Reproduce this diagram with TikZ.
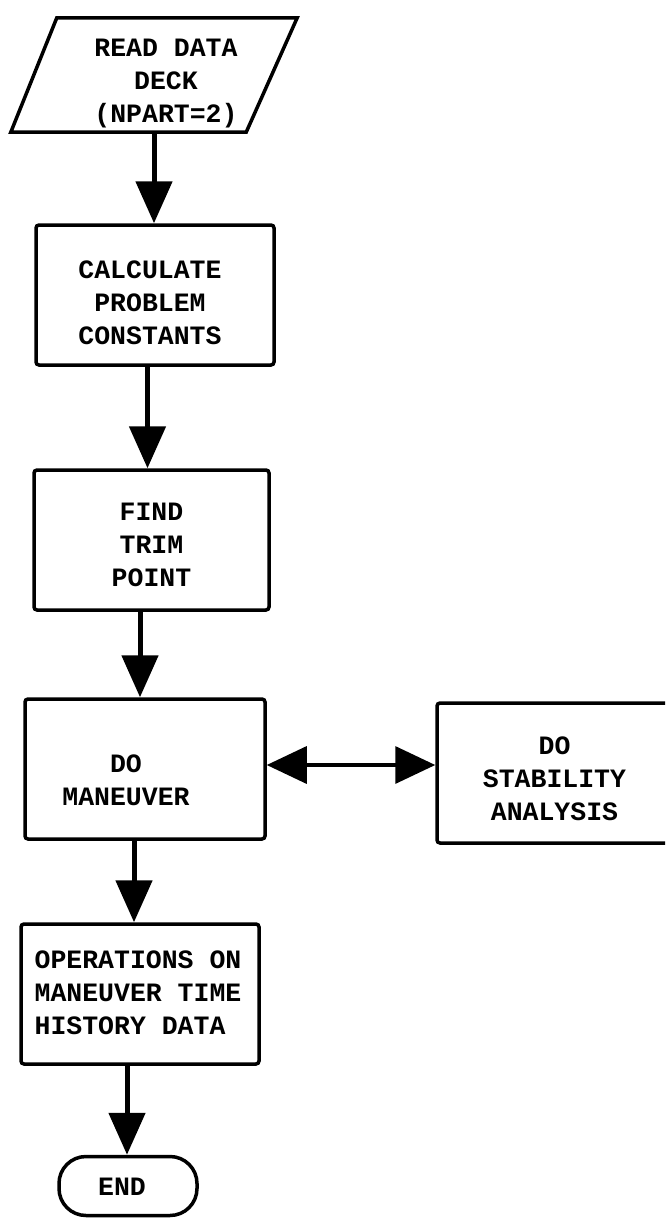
\documentclass[tikz,border=0pt]{standalone}
\usepackage{fontspec}
\newfontfamily\typer{Liberation Mono}
\usetikzlibrary{arrows.meta,calc}
\tikzset{
  box/.style={draw, line width=3.5pt, rounded corners=3pt, minimum width=238pt,
              minimum height=140pt, inner sep=0pt},
  txt/.style={font=\typer\bfseries\fontsize{26.5}{33}\selectfont, align=center, inner sep=0pt},
  flow/.style={line width=5pt, -{Triangle[length=42pt,width=36pt]}},
  link/.style={line width=3.5pt,
               {Triangle[length=40pt,width=37pt]}-{Triangle[length=40pt,width=37pt]}},
}
\begin{document}
\begin{tikzpicture}[x=1pt,y=-1pt]
\fill[white] (0,0) rectangle (665,1218);
\useasboundingbox (0,0) rectangle (665,1218);
\clip (0,0) rectangle (665,1218);

% input: data deck (parallelogram)
\node[minimum width=286pt, minimum height=114pt, inner sep=0pt] (read) at (154,75) {};
\draw[line width=3.5pt, line join=miter]
  ($(read.north west)+(46,0)$) -- (read.north east) --
  ($(read.south east)+(-51,0)$) -- (read.south west) -- cycle;
\node[txt] (readtext) at ($(read.center)+(12,9)$) {READ DATA\\DECK\\(NPART=2)};

% process boxes
\node[box, label={[txt,xshift=-5pt,yshift=-8pt]center:{CALCULATE\\PROBLEM\\CONSTANTS}}]
  (calc) at (155,295) {};
\node[box, minimum width=235pt, label={[txt,yshift=-5pt]center:{FIND\\TRIM\\POINT}}]
  (trim) at (151.5,540) {};
\node[box, minimum width=240pt, label={[txt,xshift=-19pt,yshift=-11pt]center:{DO\\MANEUVER}}]
  (man) at (145,769) {};
\node[box, minimum width=235pt, label={[txt,yshift=-6pt]center:{DO\\STABILITY\\ANALYSIS}}]
  (stab) at (554.5,773) {};
\node[box, label={[txt,align=left,xshift=-2pt,yshift=1pt]center:{OPERATIONS ON\\MANEUVER TIME\\HISTORY DATA}}]
  (ops) at (140,994) {};

% terminal
\node[box, minimum width=138pt, minimum height=59pt, rounded corners=27pt,
      label={[txt,xshift=-6pt,yshift=-1pt]center:END}]
  (fin) at (128,1186) {};

% connectors
\draw[flow] (read.south) -- (read.south |- calc.north);
\draw[flow] ([xshift=-4pt]trim.north |- calc.south) -- ([xshift=-4pt]trim.north);
\draw[flow] ([xshift=-5pt]man.north |- trim.south) -- ([xshift=-5pt]man.north);
\draw[flow] ([xshift=-6pt]ops.north |- man.south) -- ([xshift=-6pt]ops.north);
\draw[flow] ([xshift=-1pt]fin.north |- ops.south) -- ([xshift=-1pt]fin.north);
\draw[link] ([yshift=4pt]man.east) -- ([yshift=4pt]man.east -| stab.west);
\end{tikzpicture}
\end{document}
